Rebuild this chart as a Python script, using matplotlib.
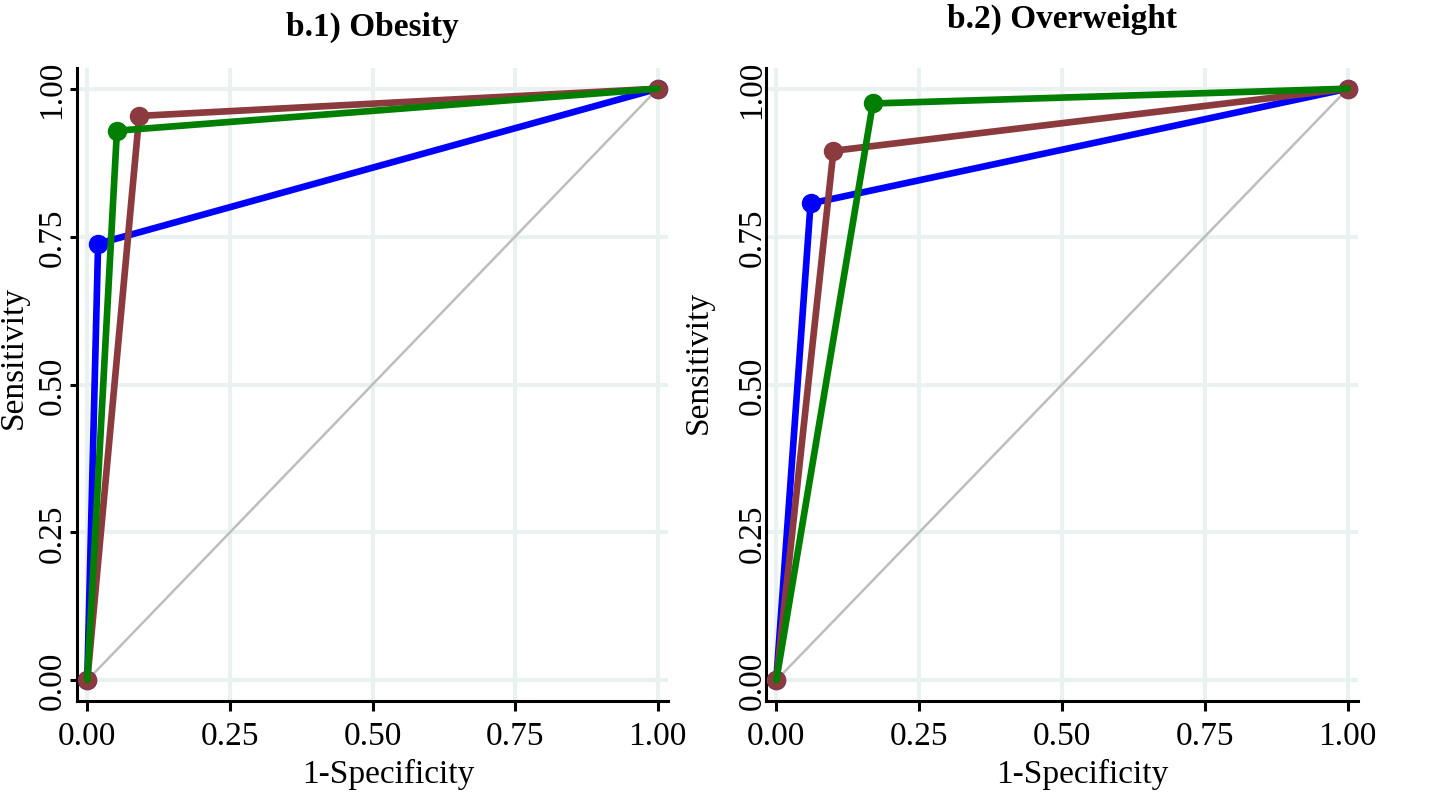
import matplotlib
matplotlib.use("Agg")
import matplotlib.pyplot as plt

plt.rcParams['font.family'] = ['Liberation Serif', 'DejaVu Serif']

# ROC points: (1-specificity, sensitivity)
obesity_blue_x = [0.0, 0.019, 1.0]
obesity_blue_y = [0.0, 0.738, 1.0]
obesity_brown_x = [0.0, 0.091, 1.0]
obesity_brown_y = [0.0, 0.954, 1.0]
obesity_green_x = [0.0, 0.052, 1.0]
obesity_green_y = [0.0, 0.929, 1.0]

overweight_blue_x = [0.0, 0.060, 1.0]
overweight_blue_y = [0.0, 0.806, 1.0]
overweight_brown_x = [0.0, 0.100, 1.0]
overweight_brown_y = [0.0, 0.895, 1.0]
overweight_green_x = [0.0, 0.169, 1.0]
overweight_green_y = [0.0, 0.975, 1.0]

ticks = [0.0, 0.25, 0.5, 0.75, 1.0]
tick_labels = ["0.00", "0.25", "0.50", "0.75", "1.00"]

BLUE = "#0000FF"
BROWN = "#8B3A3E"
GREEN = "#007F00"
GRID = "#EAF1F1"
FS = 24

fig = plt.figure(figsize=(14.32, 8.03), dpi=100)
ax1 = fig.add_axes([77 / 1432, 1 - 702 / 803, 591 / 1432, 633 / 803])
ax2 = fig.add_axes([766 / 1432, 1 - 702 / 803, 592 / 1432, 633 / 803])

panels = [
    (ax1,
     [(obesity_blue_x, obesity_blue_y, BLUE, None),
      (obesity_brown_x, obesity_brown_y, BROWN, None),
      (obesity_green_x, obesity_green_y, GREEN, [1])]),
    (ax2,
     [(overweight_blue_x, overweight_blue_y, BLUE, None),
      (overweight_brown_x, overweight_brown_y, BROWN, None),
      (overweight_green_x, overweight_green_y, GREEN, [1])]),
]

for ax, series in panels:
    ax.plot([0, 1], [0, 1], color="#BEBEBE", lw=1.8, zorder=2)
    for x, y, c, mk in series:
        ax.plot(x, y, color=c, lw=4.8, marker="o", ms=13, markevery=mk,
                solid_capstyle="round", zorder=3)
    ax.set_xlim(-0.018, 1.018)
    ax.set_ylim(-0.035, 1.035)
    ax.set_xticks(ticks)
    ax.set_xticklabels(tick_labels)
    ax.set_yticks(ticks)
    ax.set_yticklabels(tick_labels, rotation=90, va="center")
    ax.grid(True, color=GRID, lw=2.9, zorder=0)
    ax.set_axisbelow(True)
    for s in ["top", "right"]:
        ax.spines[s].set_visible(False)
    for s in ["left", "bottom"]:
        ax.spines[s].set_linewidth(2.2)
    ax.tick_params(axis="x", length=7, width=2.2, pad=7, labelsize=FS)
    ax.set_xlabel("1-Specificity", fontsize=FS)
    ax.set_ylabel("Sensitivity", fontsize=FS)

ax1.tick_params(axis="y", length=5, width=2.2, pad=2, labelsize=FS)
ax2.tick_params(axis="y", length=0, width=2.2, pad=-1, labelsize=FS)

ax1.set_title("b.1) Obesity", fontsize=FS, fontweight="bold", pad=24)
ax2.set_title("b.2) Overweight", fontsize=FS, fontweight="bold", pad=30)

ax1.xaxis.set_label_coords(0.526, -0.09)
ax2.xaxis.set_label_coords(0.535, -0.09)
ax1.yaxis.set_label_coords(-0.082, 0.545)
ax2.yaxis.set_label_coords(-0.088, 0.537)

fig.savefig("out.png", dpi=100)
